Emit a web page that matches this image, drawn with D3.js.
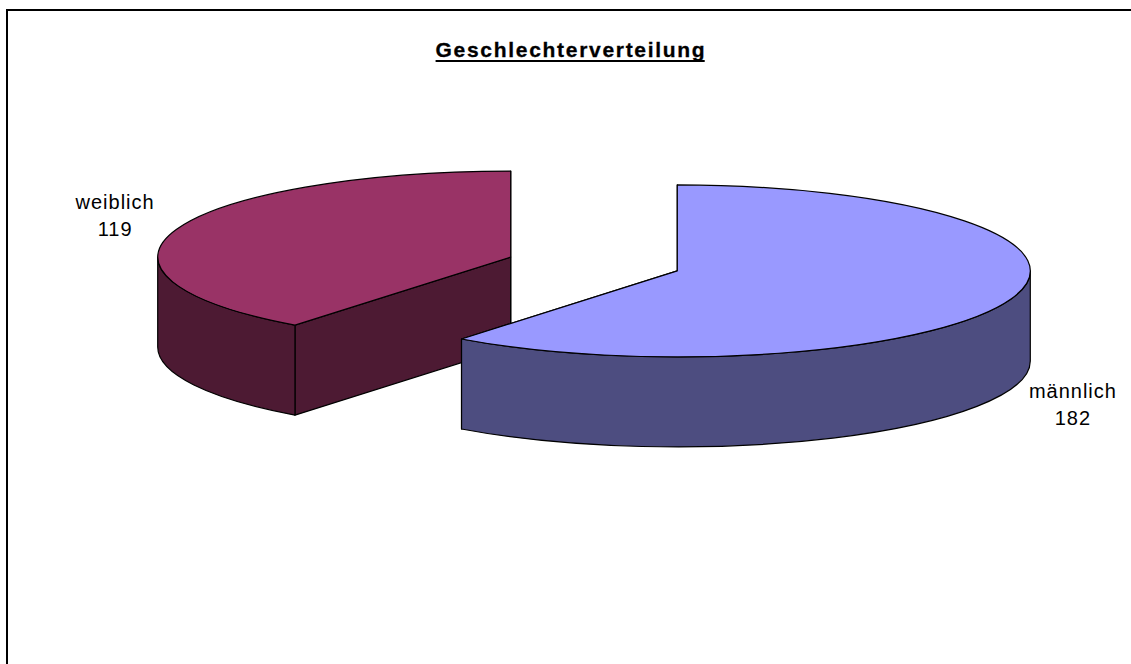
<!DOCTYPE html>
<html><head><meta charset="utf-8">
<script src="https://cdn.jsdelivr.net/npm/d3@7"></script>
<style>body{margin:0;background:#fff}svg{display:block}</style>
</head><body>
<svg id="c" width="1131" height="664"></svg>
<script>
const categories = ["männlich", "weiblich"];
const values = [182, 119];
const topColors = ["#9999FF", "#993366"];
const sideColors = ["#4D4D80", "#4D1A33"];
const title = "Geschlechterverteilung";

const W = 1131, H = 664;
const svg = d3.select("#c");
svg.append("rect").attr("width", W).attr("height", H).attr("fill", "#fff");
svg.append("rect").attr("x", 7).attr("y", 10).attr("width", 1200).attr("height", 800)
  .attr("fill", "none").attr("stroke", "#000").attr("stroke-width", 2);

const t = svg.append("text").attr("x", 571).attr("y", 57).attr("text-anchor", "middle")
  .attr("font-family", "Liberation Sans, Arial, sans-serif").attr("font-weight", "bold")
  .attr("font-size", 21).attr("letter-spacing", "1.7px")
  .attr("stroke", "#000").attr("stroke-width", 0.3)
  .text(title);
const bb = t.node().getBBox();
svg.append("line").attr("x1", bb.x).attr("x2", bb.x + bb.width - 1.7)
  .attr("y1", 61).attr("y2", 61).attr("stroke", "#000").attr("stroke-width", 2);

const cx = 594, cy = 264, rx = 353, ry = 86, depth = 90, explode = 88;
const ky = ry / rx;

const pie = d3.pie().sort(null).value(d => d.v).startAngle(0).endAngle(2 * Math.PI);
const arcs = pie(categories.map((c, i) => ({ c, v: values[i], i })));

arcs.forEach(a => {
  a.mid = (a.startAngle + a.endAngle) / 2;
  a.ox = cx + explode * Math.sin(a.mid);
  a.oy = cy - explode * ky * Math.cos(a.mid);
});
const pt = (a, ang, dz = 0) => [a.ox + rx * Math.sin(ang), a.oy - ry * Math.cos(ang) + dz];

const order = arcs.slice().sort((p, q) => (-Math.cos(p.mid)) - (-Math.cos(q.mid)));
const g = svg.append("g").attr("stroke", "#000").attr("stroke-width", 1.2).attr("stroke-linejoin", "round");

order.forEach(a => {
  const i = a.data.i;
  const faces = g.append("g");
  [a.startAngle, a.endAngle].forEach(ang => {
    const p = pt(a, ang);
    const path = d3.path();
    path.moveTo(a.ox, a.oy); path.lineTo(p[0], p[1]);
    path.lineTo(p[0], p[1] + depth); path.lineTo(a.ox, a.oy + depth); path.closePath();
    faces.append("path").attr("d", path.toString()).attr("fill", sideColors[i]);
  });
  const a0 = Math.max(a.startAngle, Math.PI / 2), a1 = Math.min(a.endAngle, 3 * Math.PI / 2);
  if (a1 > a0) {
    const p0 = pt(a, a0), p1 = pt(a, a1);
    const large = (a1 - a0) > Math.PI ? 1 : 0;
    const d = `M${p0[0]},${p0[1]} A${rx},${ry} 0 ${large} 1 ${p1[0]},${p1[1]} L${p1[0]},${p1[1] + depth} A${rx},${ry} 0 ${large} 0 ${p0[0]},${p0[1] + depth} Z`;
    faces.append("path").attr("d", d).attr("fill", sideColors[i]);
  }
  const s = pt(a, a.startAngle), e = pt(a, a.endAngle);
  const large = (a.endAngle - a.startAngle) > Math.PI ? 1 : 0;
  g.append("path")
    .attr("d", `M${a.ox},${a.oy} L${s[0]},${s[1]} A${rx},${ry} 0 ${large} 1 ${e[0]},${e[1]} Z`)
    .attr("fill", topColors[i]);
});

const lab = svg.append("g").attr("font-family", "Liberation Sans, Arial, sans-serif")
  .attr("font-size", 20).attr("letter-spacing", "1px").attr("text-anchor", "middle").attr("fill", "#000");
arcs.forEach(a => {
  const lx = a.ox + 418 * Math.sin(a.mid);
  const ly = a.oy - 270 * Math.cos(a.mid) + 45;
  lab.append("text").attr("x", lx).attr("y", ly - 5.5).text(a.data.c);
  lab.append("text").attr("x", lx).attr("y", ly + 21.5).text(a.data.v);
});
</script>
</body></html>
